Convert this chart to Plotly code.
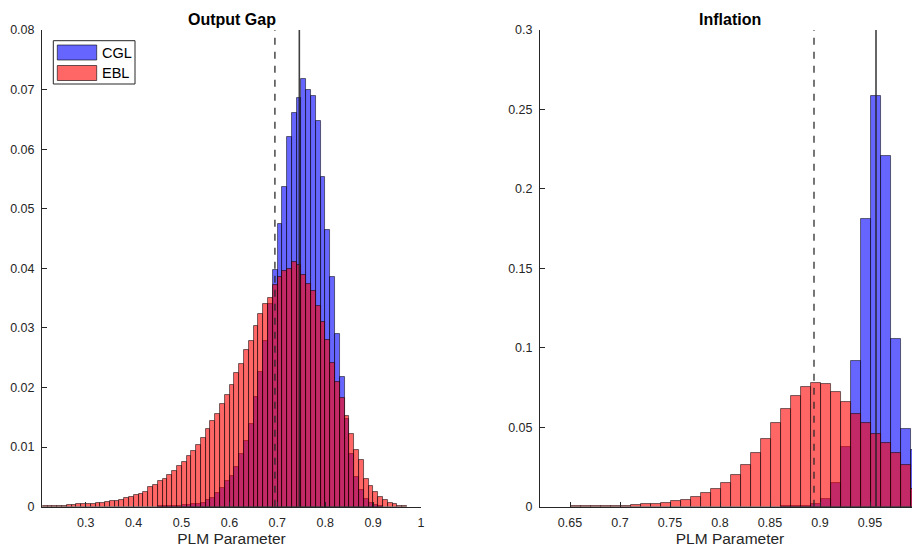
import plotly.graph_objects as go

# ---------------- data ----------------
bin_width = 0.01
edge_offset = 0.0005

# Output Gap panel
og_ebl_start = 0.21
og_ebl = [0.0001, 0.0001, 0.0001, 0.0002, 0.0002, 0.0003, 0.0003, 0.0004, 0.0004, 0.0004,
          0.0005, 0.0006, 0.0007, 0.0008, 0.0010, 0.0010, 0.0012, 0.0014, 0.0017, 0.0019,
          0.0022, 0.0025, 0.0033, 0.0036, 0.0043, 0.0047, 0.0053, 0.0060, 0.0068, 0.0075,
          0.0085, 0.0093, 0.0103, 0.0116, 0.0130, 0.0143, 0.0155, 0.0173, 0.0187, 0.0205,
          0.0224, 0.0240, 0.0263, 0.0278, 0.0304, 0.0324, 0.0340, 0.0350, 0.0372, 0.0385,
          0.0395, 0.0399, 0.0410, 0.0406, 0.0389, 0.0374, 0.0362, 0.0336, 0.0310, 0.0280,
          0.0242, 0.0210, 0.0183, 0.0153, 0.01225, 0.0096, 0.0079, 0.0047, 0.0035, 0.0025,
          0.0017, 0.0011, 0.0007, 0.0004, 0.0002, 0.0001]
og_cgl_start = 0.45
og_cgl = [0.0001, 0.0001, 0.0001, 0.0002, 0.0002, 0.0003, 0.0003, 0.0004, 0.0005, 0.0007,
          0.0011, 0.0014, 0.0023, 0.0031, 0.0043, 0.0052, 0.0067, 0.0088, 0.0111, 0.0138,
          0.0184, 0.0226, 0.0278, 0.0340, 0.0397, 0.0475, 0.0536, 0.0620, 0.0660, 0.0686,
          0.0718, 0.0700, 0.0690, 0.0648, 0.0554, 0.0465, 0.0386, 0.0289, 0.0218, 0.0148,
          0.0088, 0.0050, 0.0028, 0.0013, 0.0006, 0.0003, 0.0001]
og_dashed = 0.695
og_solid = 0.746

# Inflation panel
inf_ebl_start = 0.65
inf_ebl = [0.0002, 0.0002, 0.0002, 0.0003, 0.0004, 0.0006, 0.0010, 0.0015, 0.0019, 0.0021,
           0.0034, 0.0042, 0.0063, 0.0084, 0.0109, 0.0151, 0.0199, 0.0264, 0.0335, 0.0428,
           0.0524, 0.0618, 0.0694, 0.0755, 0.0776, 0.0775, 0.0720, 0.0659, 0.0581, 0.0528,
           0.0457, 0.0399, 0.0335, 0.0261, 0.0114]
inf_cgl_start = 0.86
inf_cgl = [0.0002, 0.0003, 0.0005, 0.0020, 0.0046, 0.0147, 0.0373, 0.0914, 0.1813, 0.2587,
           0.2208, 0.1057, 0.0486, 0.0356]
inf_dashed = 0.894
inf_solid = 0.956

og_xticks = [0.3, 0.4, 0.5, 0.6, 0.7, 0.8, 0.9, 1.0]
og_xlabels = ["0.3", "0.4", "0.5", "0.6", "0.7", "0.8", "0.9", "1"]
og_yticks = [0, 0.01, 0.02, 0.03, 0.04, 0.05, 0.06, 0.07, 0.08]
og_ylabels = ["0", "0.01", "0.02", "0.03", "0.04", "0.05", "0.06", "0.07", "0.08"]
inf_xticks = [0.65, 0.7, 0.75, 0.8, 0.85, 0.9, 0.95, 1.0]
inf_xlabels = ["0.65", "0.7", "0.75", "0.8", "0.85", "0.9", "0.95", "1"]
inf_yticks = [0, 0.05, 0.1, 0.15, 0.2, 0.25, 0.3]
inf_ylabels = ["0", "0.05", "0.1", "0.15", "0.2", "0.25", "0.3"]

series_names = ["CGL", "EBL"]
panel_titles = ["Output Gap", "Inflation"]
x_title = "PLM Parameter"

# ---------------- styling ----------------
W, H = 920, 548
OFF = 8  # page body margin in the browser
BLUE = "rgba(0,0,255,0.6)"
RED = "rgba(255,0,0,0.6)"
EDGE = "rgba(0,0,0,0.6)"
AX = "#262626"
FONT = "Liberation Sans, Arial, Helvetica, sans-serif"


def centers(start, vals):
    return [start + edge_offset + bin_width * (i + 0.5) for i in range(len(vals))]


def px_x(p):
    return (p - OFF) / W


def px_y(p):
    return 1 - (p - OFF) / H


fig = go.Figure()

panels = [
    ("x", "y", og_cgl_start, og_cgl, og_ebl_start, og_ebl, og_dashed, og_solid, 0.08),
    ("x2", "y2", inf_cgl_start, inf_cgl, inf_ebl_start, inf_ebl, inf_dashed, inf_solid, 0.3),
]
for xa, ya, cs, cv, es, ev, dash_v, solid_v, ymax in panels:
    fig.add_trace(go.Bar(x=centers(cs, cv), y=cv, width=bin_width, name=series_names[0],
                         marker=dict(color=BLUE, line=dict(color=EDGE, width=0.9)),
                         xaxis=xa, yaxis=ya, showlegend=False))
    fig.add_trace(go.Bar(x=centers(es, ev), y=ev, width=bin_width, name=series_names[1],
                         marker=dict(color=RED, line=dict(color=EDGE, width=0.9)),
                         xaxis=xa, yaxis=ya, showlegend=False))
    fig.add_trace(go.Scatter(x=[dash_v, dash_v], y=[0, ymax], mode="lines",
                             line=dict(color="rgba(40,40,40,0.8)", width=1.6, dash="7px,7px"),
                             xaxis=xa, yaxis=ya, showlegend=False, hoverinfo="skip"))
    fig.add_trace(go.Scatter(x=[solid_v, solid_v], y=[0, ymax], mode="lines",
                             line=dict(color="rgba(30,30,30,0.85)", width=1.6),
                             xaxis=xa, yaxis=ya, showlegend=False, hoverinfo="skip"))

ydom = [px_y(506.7), px_y(30)]
axis_common = dict(showline=True, linecolor=AX, linewidth=1, ticks="inside", ticklen=5,
                   tickcolor=AX, tickwidth=1, showgrid=False, zeroline=False,
                   tickfont=dict(family=FONT, size=12.5, color=AX), automargin=False)
xtitle = dict(text=x_title, font=dict(family=FONT, size=15.5, color=AX), standoff=3)

fig.update_layout(
    width=W, height=H, barmode="overlay", bargap=0,
    paper_bgcolor="white", plot_bgcolor="white",
    margin=dict(l=0, r=0, t=0, b=0),
    showlegend=False,
    xaxis=dict(domain=[px_x(42), px_x(421)], range=[0.2088, 1.0], tickvals=og_xticks,
               ticktext=og_xlabels, anchor="y", title=xtitle, ticklabelstandoff=4,
               **axis_common),
    yaxis=dict(domain=ydom, range=[0, 0.08], tickvals=og_yticks, ticktext=og_ylabels,
               anchor="x", ticklabelstandoff=4, **axis_common),
    xaxis2=dict(domain=[px_x(540), px_x(920)], range=[0.62, 1.0], tickvals=inf_xticks,
                ticktext=inf_xlabels, anchor="y2", title=xtitle, ticklabelstandoff=4,
                **axis_common),
    yaxis2=dict(domain=ydom, range=[0, 0.3], tickvals=inf_yticks, ticktext=inf_ylabels,
                anchor="x2", ticklabelstandoff=4, **axis_common),
)

# titles
for cx, t in [((42 + 421) / 2, panel_titles[0]), ((540 + 920) / 2, panel_titles[1])]:
    fig.add_annotation(x=px_x(cx), y=px_y(19), xref="paper", yref="paper", text="<b>" + t + "</b>",
                       showarrow=False, xanchor="center", yanchor="middle",
                       font=dict(family=FONT, size=16, color="black"))

# legend box (manual, MATLAB-like)
fig.add_shape(type="rect", xref="paper", yref="paper", x0=px_x(53.3), x1=px_x(135),
              y0=px_y(84), y1=px_y(40.7), line=dict(color=AX, width=1), fillcolor="white")
for i, (nm, col) in enumerate(zip(series_names, [BLUE, RED])):
    top = 45 + i * 20.5
    fig.add_shape(type="rect", xref="paper", yref="paper", x0=px_x(57.3), x1=px_x(96.7),
                  y0=px_y(top + 15), y1=px_y(top), line=dict(color=EDGE, width=1), fillcolor=col)
    fig.add_annotation(x=px_x(99.5), y=px_y(top + 7.5), xref="paper", yref="paper", text=nm,
                       showarrow=False, xanchor="left", yanchor="middle",
                       font=dict(family=FONT, size=14.5, color="black"))

fig.write_html("out.html")
